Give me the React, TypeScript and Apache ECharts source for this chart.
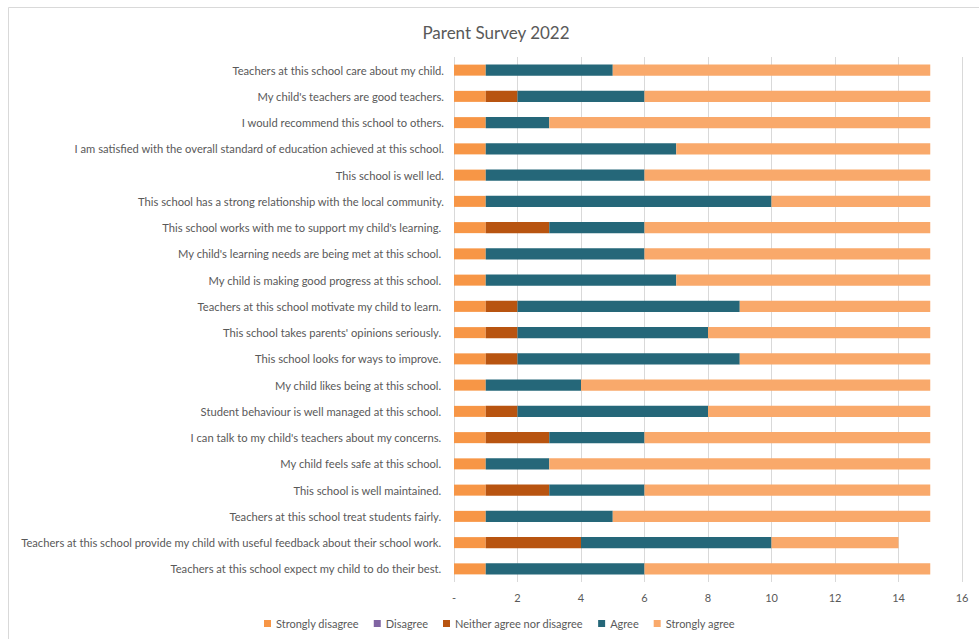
import React, { useEffect, useRef } from "react";
import * as echarts from "echarts";

const categories = [
  "Teachers at this school care about my child.",
  "My child's teachers are good teachers.",
  "I would recommend this school to others.",
  "I am satisfied with the overall standard of education achieved at this school.",
  "This school is well led.",
  "This school has a strong relationship with the local community.",
  "This school works with me to support my child's learning. ",
  "My child's learning needs are being met at this school. ",
  "My child is making good progress at this school. ",
  "Teachers at this school motivate my child to learn. ",
  "This school takes parents' opinions seriously. ",
  "This school looks for ways to improve. ",
  "My child likes being at this school. ",
  "Student behaviour is well managed at this school. ",
  "I can talk to my child's teachers about my concerns. ",
  "My child feels safe at this school. ",
  "This school is well maintained. ",
  "Teachers at this school treat students fairly. ",
  "Teachers at this school provide my child with useful feedback about their school work. ",
  "Teachers at this school expect my child to do their best. ",
];

const stronglyDisagree = [1, 1, 1, 1, 1, 1, 1, 1, 1, 1, 1, 1, 1, 1, 1, 1, 1, 1, 1, 1];
const disagree = [0, 0, 0, 0, 0, 0, 0, 0, 0, 0, 0, 0, 0, 0, 0, 0, 0, 0, 0, 0];
const neither = [0, 1, 0, 0, 0, 0, 2, 0, 0, 1, 1, 1, 0, 1, 2, 0, 2, 0, 3, 0];
const agree = [4, 4, 2, 6, 5, 9, 3, 5, 6, 7, 6, 7, 3, 6, 3, 2, 3, 4, 6, 5];
const stronglyAgree = [10, 9, 12, 8, 9, 5, 9, 9, 8, 6, 7, 6, 11, 7, 9, 12, 9, 10, 4, 9];

const seriesNames = [
  "Strongly disagree",
  "Disagree",
  "Neither agree nor disagree",
  "Agree",
  "Strongly agree",
];
const seriesColors = ["#F79646", "#8064A2", "#B85410", "#256779", "#F9A96B"];
const seriesData = [stronglyDisagree, disagree, neither, agree, stronglyAgree];

const FONT = "Lato, 'Liberation Sans', sans-serif";
const TEXT = "#595959";

export default function App() {
  const ref = useRef<HTMLDivElement>(null);
  useEffect(() => {
    if (!ref.current) return;
    const chart = echarts.init(ref.current, null, { renderer: "svg" });
    chart.setOption({
      animation: false,
      backgroundColor: "#ffffff",
      textStyle: { fontFamily: FONT },
      title: {
        text: "Parent Survey 2022",
        left: 491,
        textAlign: "center",
        top: 19,
        textStyle: { fontFamily: FONT, fontSize: 17, fontWeight: "normal", color: TEXT },
      },
      graphic: [
        {
          type: "rect",
          shape: { x: 8.5, y: 7.5, width: 1000, height: 700 },
          style: { fill: "none", stroke: "#D9D9D9", lineWidth: 1 },
          silent: true,
        },
      ],
      legend: {
        bottom: 5,
        left: 259,
        itemWidth: 7,
        itemHeight: 7,
        itemGap: 15,
        icon: "rect",
        textStyle: { fontFamily: FONT, fontSize: 11, color: TEXT },
        data: seriesNames,
      },
      grid: { left: 454, right: 17, top: 57, bottom: 57, containLabel: false },
      xAxis: {
        type: "value",
        min: 0,
        max: 16,
        interval: 2,
        axisLine: { show: false },
        axisTick: { show: false },
        splitLine: { show: true, lineStyle: { color: "#D9D9D9", width: 1 } },
        axisLabel: {
          color: TEXT,
          fontSize: 11,
          fontFamily: FONT,
          margin: 10,
          formatter: (v: number) => (v === 0 ? "-" : String(v)),
        },
      },
      yAxis: {
        type: "category",
        data: categories,
        inverse: true,
        axisLine: { show: false },
        axisTick: { show: false },
        axisLabel: { color: TEXT, fontSize: 11.2, fontFamily: FONT, margin: 10 },
      },
      series: seriesNames.map((name, i) => ({
        name,
        type: "bar",
        stack: "total",
        barCategoryGap: "58%",
        data: seriesData[i],
        itemStyle: { color: seriesColors[i] },
      })),
    });
    return () => chart.dispose();
  }, []);
  return (
    <div
      ref={ref}
      style={{ position: "fixed", left: 0, top: 0, width: 979, height: 639 }}
    />
  );
}
